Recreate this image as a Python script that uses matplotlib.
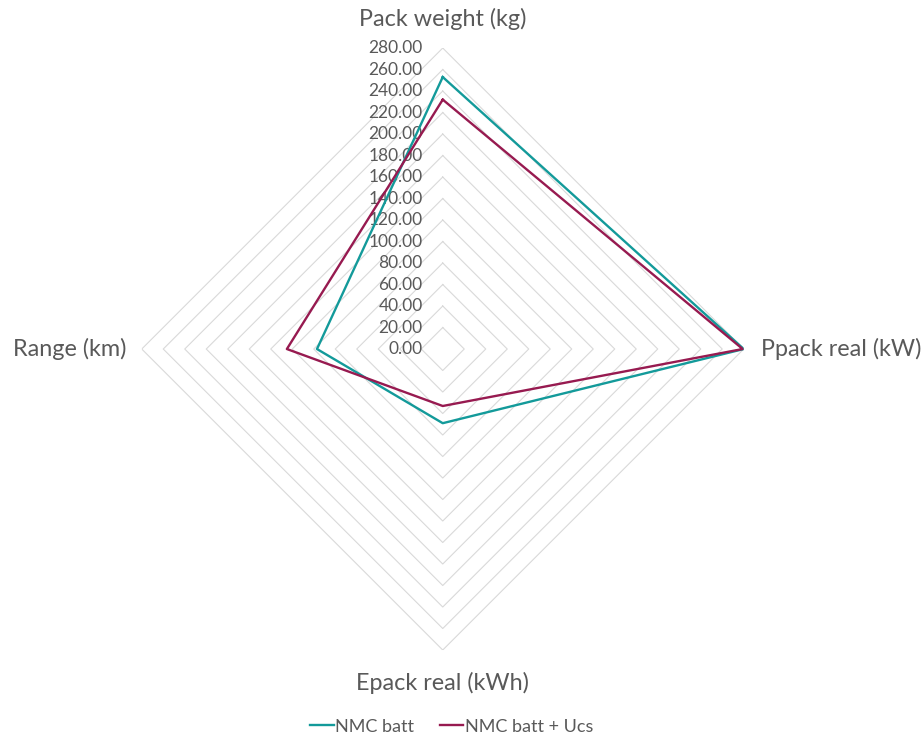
import numpy as np
import matplotlib
matplotlib.use("Agg")
import matplotlib.pyplot as plt

# data
categories = ["Pack weight (kg)", "Ppack real (kW)", "Epack real (kWh)", "Range (km)"]
nmc_batt = [253, 280, 69, 117]
nmc_batt_ucs = [232, 279, 53, 145]
levels = np.arange(0, 281, 20)

plt.rcParams['font.family'] = ['Lato', 'DejaVu Sans']
grey = "#595959"

fig = plt.figure(figsize=(9.22, 7.40), dpi=100)
ax = fig.add_axes([0.1537, 0.1216, 0.653, 0.8135], projection="polar")
ax.set_theta_offset(np.pi / 2)
ax.set_theta_direction(-1)
ax.set_ylim(0, 280)
ax.grid(False)
ax.spines["polar"].set_visible(False)
ax.set_xticks([])
ax.set_yticks([])
ax.patch.set_alpha(0)

theta = np.linspace(0, 2 * np.pi, len(categories), endpoint=False)
th_closed = np.append(theta, theta[0])

# polygon grid rings (no spokes in the original)
for lv in levels:
    ax.plot(th_closed, [lv] * len(th_closed), color="#d9d9d9", lw=0.8, zorder=1)

# radial tick labels along the top spoke
for lv in levels:
    ax.annotate("%.2f" % lv, xy=(0, lv), xytext=(-20, 0), textcoords="offset pixels",
                ha="right", va="center", fontsize=12.5, color=grey, zorder=2)

# category labels
offsets = [(0, 29, "center"), (17, 0, "left"), (0, -33, "center"), (-15, 0, "right")]
for t, lab, (dx, dy, ha) in zip(theta, categories, offsets):
    ax.annotate(lab, xy=(t, 280), xytext=(dx, dy), textcoords="offset pixels",
                ha=ha, va="center", fontsize=16.8, color=grey, annotation_clip=False)

ax.plot(th_closed, nmc_batt + nmc_batt[:1], color="#139a9a", lw=1.7, label="NMC batt", zorder=3)
ax.plot(th_closed, nmc_batt_ucs + nmc_batt_ucs[:1], color="#971a50", lw=1.7, label="NMC batt + Ucs", zorder=3)

fig.legend(loc="center", bbox_to_anchor=(0.490, 0.018), ncol=2, frameon=False,
           fontsize=13, labelcolor=grey, handlelength=1.3, handletextpad=0.1,
           columnspacing=1.4)

fig.savefig("out.png", dpi=100)
